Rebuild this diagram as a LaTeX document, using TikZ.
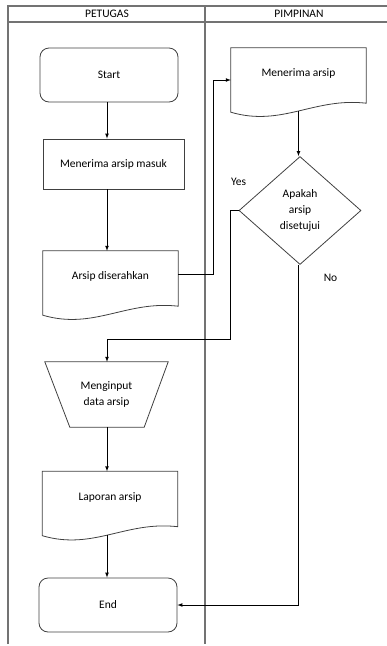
\documentclass[tikz,border=0pt]{standalone}
\usepackage{fontspec}
\setmainfont{Carlito}
\usetikzlibrary{arrows, shapes.geometric}

% outline of a document symbol round a named node
\newcommand{\dokumen}[1]{\draw[garis] (#1.north west) -- (#1.north east) -- ([yshift=12pt]#1.south east)
  .. controls ([xshift=-52pt,yshift=18pt]#1.south east) and ([xshift=51pt,yshift=-12pt]#1.south west) .. ([yshift=3pt]#1.south west) -- cycle;}

\begin{document}
\begin{tikzpicture}[x=1pt, y=-1pt, >=latex, font=\fontsize{11.5}{16}\selectfont,
  lajur/.style={draw=black!55, line width=1.1pt},
  garis/.style={draw=black!75, line width=0.8pt},
  terminal/.style={garis, rectangle, rounded corners=9pt, minimum width=138pt, minimum height=54pt},
  proses/.style={garis, rectangle, minimum width=141pt, minimum height=50pt},
  dok/.style={rectangle, minimum width=135pt, minimum height=67pt, text depth=17pt},
  cabang/.style={garis, diamond, minimum width=122pt, minimum height=108pt, inner sep=0pt, align=center},
  arr/.style={->, line width=0.7pt}]
\useasboundingbox (0,0) rectangle (387,646);

% swimlanes
\draw[lajur] (8,644) -- (8,6) -- (387,6);
\draw[lajur] (8,22) -- (387,22);
\draw[lajur] (205,6) -- (205,644);
\node (petugas) at (107,14) {PETUGAS};
\node (pimpinan) at (299,14) {PIMPINAN};

\coordinate (col) at (107,0);

% petugas
\node[terminal] (start) at (109,75) {Start};
\node[proses] (masuk) at (113.5,164) {Menerima arsip masuk};
\node[dok] (serah) at (110.5,284.5) {Arsip diserahkan};
\dokumen{serah}
\node[rectangle, minimum width=123pt, minimum height=65pt, align=center] (input) at (106.5,394.5) {Menginput\\data arsip};
\draw[garis] (input.north west) -- (input.north east) -- ([xshift=-24pt]input.south east) -- ([xshift=25pt]input.south west) -- cycle;
\node[dok] (laporan) at (110,505) {Laporan arsip};
\dokumen{laporan}
\node[terminal] (selesai) at (108,605) {End};

% pimpinan
\node[dok] (terima) at (298.5,81.5) {Menerima arsip};
\dokumen{terima}
\node[cabang] (cek) at (300,210.5) {Apakah\\arsip\\disetujui};

% connectors
\draw[arr] (start.south -| col) -- (masuk.north -| col);
\draw[arr] (masuk.south -| col) -- (serah.north -| col);
\draw[arr] ([yshift=10.5pt]serah.east) -- ++(35,0) |- ([yshift=1.5pt]terima.west);
\draw[arr] ([yshift=4pt]terima.south) -- (cek.north -| terima.south);
\draw[arr] (cek.west) -- ++(-8,0) node[pos=0, yshift=28.5pt] {Yes} -- ++(0,128.5) -| (input.north -| col);
\draw[arr] (cek.south -| terima.south) node[xshift=32pt, yshift=-12.5pt] {No} |- (selesai.east);
\draw[arr] (input.south -| col) -- (laporan.north -| col);
\draw[arr] ([yshift=4pt]laporan.south -| col) -- (selesai.north -| col);
\end{tikzpicture}
\end{document}
